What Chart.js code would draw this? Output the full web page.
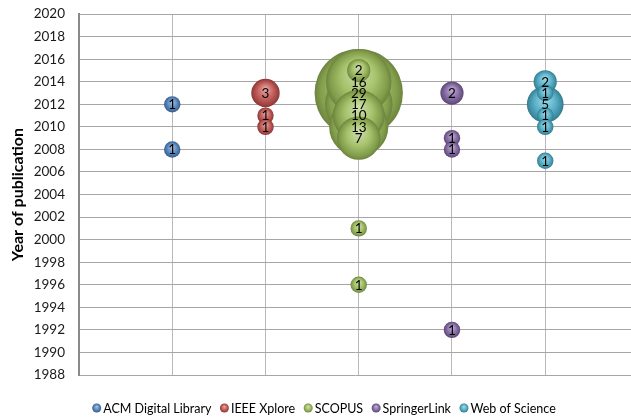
<!DOCTYPE html>
<html>
<head>
<meta charset="utf-8">
<script src="https://cdn.jsdelivr.net/npm/chart.js@4/dist/chart.umd.min.js"></script>
<style>
  html, body { margin: 0; padding: 0; background: #ffffff; }
  #wrap { width: 631px; height: 420px; }
</style>
</head>
<body>
<div id="wrap"><canvas id="chart" width="631" height="420"></canvas></div>
<script>
// Digital libraries (one column each) and their series colours
const sources = ['ACM Digital Library', 'IEEE Xplore', 'SCOPUS', 'SpringerLink', 'Web of Science'];
const sourceColors = ['#4F81BD', '#C0504D', '#9BBB59', '#8064A2', '#4BACC6'];

// Publication years and number of papers per year, per library
const acmYears = [2012, 2008];
const acmCounts = [1, 1];
const ieeeYears = [2013, 2011, 2010];
const ieeeCounts = [3, 1, 1];
const scopusYears = [2015, 2014, 2013, 2012, 2011, 2010, 2009, 2001, 1996];
const scopusCounts = [2, 16, 29, 17, 10, 13, 7, 1, 1];
const springerYears = [2013, 2009, 2008, 1992];
const springerCounts = [2, 1, 1, 1];
const wosYears = [2014, 2013, 2012, 2011, 2010, 2007];
const wosCounts = [2, 1, 5, 1, 1, 1];

// Year axis
const yearMin = 1988;
const yearMax = 2020;
const yearStep = 2;
const yAxisTitle = 'Year of publication';

const seriesYears = [acmYears, ieeeYears, scopusYears, springerYears, wosYears];
const seriesCounts = [acmCounts, ieeeCounts, scopusCounts, springerCounts, wosCounts];

// Bubble area grows with the paper count
const RADIUS_UNIT = 8.2;
function bubbleRadius(n) { return RADIUS_UNIT * Math.sqrt(n); }

function hexToRgb(hex) {
  const v = parseInt(hex.slice(1), 16);
  return [(v >> 16) & 255, (v >> 8) & 255, v & 255];
}
// f > 0 mixes toward white, f < 0 toward black
function tone(hex, f) {
  const c = hexToRgb(hex).map(ch => f >= 0 ? ch + (255 - ch) * f : ch * (1 + f));
  return 'rgb(' + c.map(Math.round).join(',') + ')';
}
function ballGradient(c2d, x, y, r, base) {
  const g = c2d.createRadialGradient(x, y - r * 0.32, r * 0.04, x, y, r);
  g.addColorStop(0, tone(base, 0.5));
  g.addColorStop(0.5, tone(base, 0.12));
  g.addColorStop(0.86, tone(base, -0.16));
  g.addColorStop(1, tone(base, -0.3));
  return g;
}

// Larger bubbles first so the smaller ones stay visible on top
const datasets = sources.map((name, i) => {
  const pts = seriesYears[i].map((yr, k) => ({ x: i + 1, y: yr, n: seriesCounts[i][k] }));
  pts.sort((a, b) => b.n - a.n);
  return {
    label: name,
    data: pts,
    backgroundColor: sourceColors[i],
    borderWidth: 0,
    radius: ctx => (ctx.raw && ctx.raw.n) ? bubbleRadius(ctx.raw.n) : 4,
    hoverRadius: 0
  };
});

const FONT = 'Lato, "Noto Sans", sans-serif';

// Shaded, ball-like fill for every bubble, placed from its laid-out position
const ballShading = {
  id: 'ballShading',
  beforeDatasetsDraw(chart) {
    chart.data.datasets.forEach((ds, di) => {
      const meta = chart.getDatasetMeta(di);
      meta.data.forEach(el => {
        const r = el.options.radius;
        if (Number.isFinite(el.x) && Number.isFinite(el.y) && r > 0) {
          el.options.backgroundColor = ballGradient(chart.ctx, el.x, el.y, r, sourceColors[di]);
        }
      });
    });
  }
};

// Count written in the middle of each bubble
const countLabels = {
  id: 'countLabels',
  afterDatasetsDraw(chart) {
    const c = chart.ctx;
    c.save();
    c.font = '13.5px ' + FONT;
    c.fillStyle = '#000000';
    c.textAlign = 'center';
    c.textBaseline = 'middle';
    chart.data.datasets.forEach((ds, di) => {
      const meta = chart.getDatasetMeta(di);
      meta.data.forEach((el, k) => {
        c.fillText(String(ds.data[k].n), el.x, el.y + 0.5);
      });
    });
    c.restore();
  }
};

// Legend row under the plot
const bottomLegend = {
  id: 'bottomLegend',
  afterDraw(chart) {
    const c = chart.ctx;
    c.save();
    c.font = '12.5px ' + FONT;
    c.textBaseline = 'middle';
    c.textAlign = 'left';
    const dotR = 4.5, dotGap = 6.5, itemGap = 8.5;
    const items = chart.data.datasets.map((ds, i) => ({ text: ds.label, color: sourceColors[i], w: c.measureText(ds.label).width }));
    let total = 0;
    items.forEach((it, i) => { total += dotR + dotGap + it.w + (i < items.length - 1 ? itemGap + dotR : 0); });
    let x = 333 - total / 2 + dotR;
    const y = 408;
    items.forEach(it => {
      c.fillStyle = ballGradient(c, x, y, dotR, it.color);
      c.beginPath();
      c.arc(x, y, dotR, 0, Math.PI * 2);
      c.fill();
      c.fillStyle = '#000000';
      c.fillText(it.text, x + dotGap, y + 0.5);
      x += dotGap + it.w + itemGap + dotR;
    });
    c.restore();
  }
};

new Chart(document.getElementById('chart'), {
  type: 'bubble',
  data: { datasets },
  plugins: [ballShading, countLabels, bottomLegend],
  options: {
    responsive: false,
    animation: false,
    events: [],
    devicePixelRatio: 1,
    layout: { autoPadding: false, padding: { top: 0, right: 0, bottom: 45, left: 0 } },
    plugins: {
      legend: { display: false },
      tooltip: { enabled: false }
    },
    scales: {
      x: {
        type: 'linear',
        min: 0,
        max: 5.92,
        ticks: { display: false, stepSize: 1 },
        grid: { color: '#b8b8b8', lineWidth: 1, drawTicks: false },
        border: { display: false },
        afterFit(s) { s.height = 0; }
      },
      y: {
        type: 'linear',
        min: yearMin,
        max: yearMax,
        ticks: {
          stepSize: yearStep,
          padding: 6,
          color: '#1a1a1a',
          font: { family: FONT, size: 13.5 },
          callback: v => String(v)
        },
        grid: { color: '#a6a6a6', lineWidth: 1, drawTicks: true, tickLength: 8, tickColor: 'rgba(0,0,0,0)' },
        border: { display: true, color: '#8a8a8a', width: 2 },
        title: {
          display: true,
          text: yAxisTitle,
          color: '#000000',
          font: { family: FONT, size: 16, weight: 'bold' },
          padding: { top: 8, bottom: 0 }
        },
        afterFit(s) { s.width = 79; }
      }
    }
  }
});
</script>
</body>
</html>
